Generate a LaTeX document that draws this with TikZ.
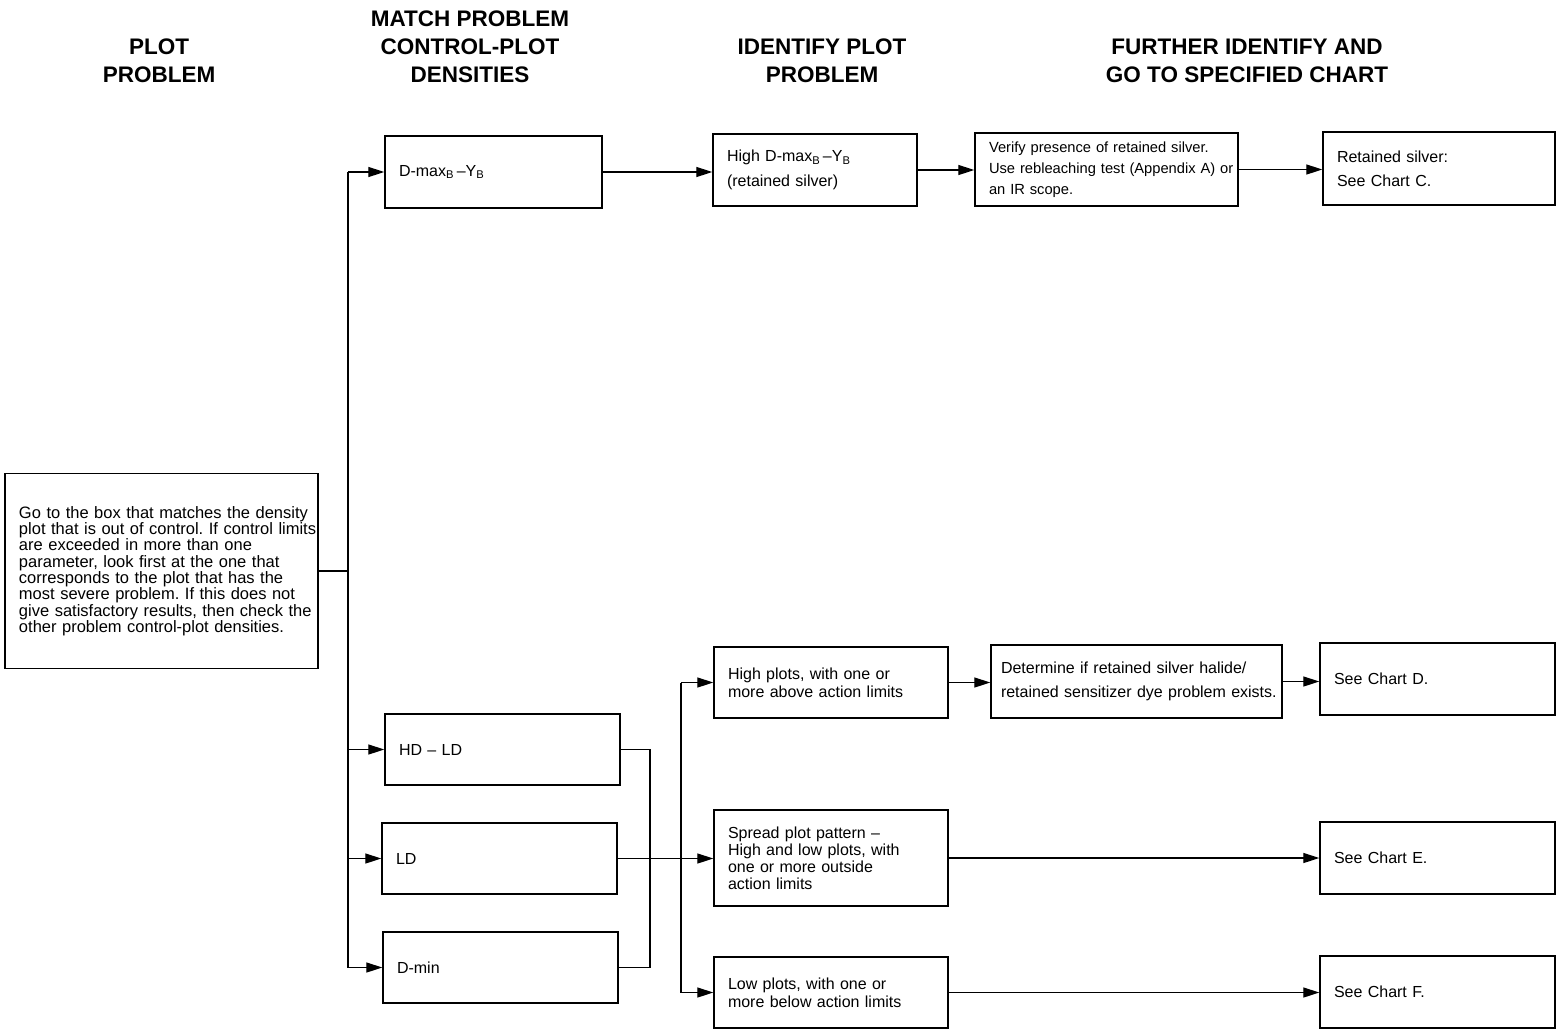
\documentclass[tikz,border=0pt]{standalone}
\usepackage{fontspec}
\setmainfont{Liberation Sans}
\usetikzlibrary{arrows.meta}
\frenchspacing

\begin{document}
\begin{tikzpicture}[x=1pt,y=-1pt,
  box/.style={draw,line width=1.4pt,inner xsep=14pt,inner ysep=0pt,align=left},
  txt/.style 2 args={font=\fontsize{#1}{#2}\selectfont},
  head/.style={font=\bfseries\fontsize{22.5}{28}\selectfont,align=center},
  line/.style={line width=1.3pt},
  arr/.style={line width=1.3pt,-{Triangle[length=16pt,width=10pt]}}]
\useasboundingbox (0,0) rectangle (1558,1029);
\node[head] (hplot) at (159,61) {PLOT\\PROBLEM};
\node[head] (hmatch) at (470,47) {MATCH PROBLEM\\CONTROL-PLOT\\DENSITIES};
\node[head] (hident) at (822,61) {IDENTIFY PLOT\\PROBLEM};
\node[head] (hfurther) at (1247,61) {FURTHER IDENTIFY AND\\GO TO SPECIFIED CHART};
\node[box,txt={16.5}{16.3},text width=285pt,minimum height=195pt] (goto) at (161.5,571)
{\mbox{Go to the box that matches the density}\\
\mbox{plot that is out of control. If control limits}\\
are exceeded in more than one\\
parameter, look first at the one that\\
corresponds to the plot that has the\\
most severe problem. If this does not\\
\mbox{give satisfactory results, then check the}\\
other problem control-plot densities.};
\node[box,txt={16}{19},text width=189pt,minimum height=72pt] (dmax) at (493.5,172)
{D-max\textsubscript{B}\,--Y\textsubscript{B}};
\node[box,txt={16}{19},text width=207pt,minimum height=71pt] (hdld) at (502.5,749.5) {HD -- LD};
\node[box,txt={16}{19},text width=207pt,minimum height=71pt] (ld) at (499.5,858.5) {LD};
\node[box,txt={16}{19},text width=207pt,minimum height=71pt] (dmin) at (500.5,967.5) {D-min};
\node[box,txt={16}{25},text width=176pt,minimum height=72pt] (highdmax) at (815,170)
{High D-max\textsubscript{B}\,--Y\textsubscript{B}\\(retained silver)};
\node[box,txt={14.7}{21},text width=235pt,minimum height=73pt] (verify) at (1106.5,169.5)
{Verify presence of retained silver.\\\mbox{Use rebleaching test (Appendix A) or}\\an IR scope.};
\node[box,txt={16}{24},text width=204pt,minimum height=73pt] (retained) at (1439,168.5)
{Retained silver:\\See Chart C.};
\node[box,txt={16}{18},text width=206pt,minimum height=71pt] (highplots) at (831,682.5)
{High plots, with one or\\more above action limits};
\node[box,txt={16}{24},inner xsep=10pt,text width=271pt,minimum height=73pt] (determine) at (1136.5,681.5)
{\mbox{Determine if retained silver halide/}\\\mbox{retained sensitizer dye problem exists.}};
\node[box,txt={16}{19},text width=207pt,minimum height=72pt] (chartd) at (1437.5,679) {See Chart D.};
\node[box,txt={16}{17},text width=206pt,minimum height=96pt] (spread) at (831,858)
{Spread plot pattern --\\High and low plots, with\\one or more outside\\action limits};
\node[box,txt={16}{19},text width=207pt,minimum height=72pt] (charte) at (1437.5,858) {See Chart E.};
\node[box,txt={16}{18},text width=206pt,minimum height=71pt] (lowplots) at (831,992.5)
{Low plots, with one or\\more below action limits};
\node[box,txt={16}{19},text width=207pt,minimum height=72pt] (chartf) at (1437.5,992) {See Chart F.};
\coordinate (bus) at (348,571);
\draw[line] (goto.east) -- (bus);
\draw[line] (bus |- dmax.west) -- (bus |- dmin.west);
\foreach \n in {dmax,hdld,ld,dmin}
  \draw[arr] (bus |- \n.west) -- (\n.west);
\draw[arr] (dmax.east) -- (dmax.east -| highdmax.west);
\draw[arr] (highdmax.east) -- (highdmax.east -| verify.west);
\draw[arr] (verify.east) -- (verify.east -| retained.west);
\coordinate (merge) at (650,858);
\draw[line] (hdld.east) -| (merge) |- (dmin.east);
\draw[arr] (ld.east) -- (ld.east -| spread.west);
\coordinate (split) at (681,858);
\draw[line] (split |- highplots.west) -- (split |- lowplots.west);
\foreach \n in {highplots,lowplots}
  \draw[arr] (split |- \n.west) -- (\n.west);
\draw[arr] (highplots.east) -- (highplots.east -| determine.west);
\draw[arr] (determine.east) -- (determine.east -| chartd.west);
\draw[arr] (spread.east) -- (spread.east -| charte.west);
\draw[arr] (lowplots.east) -- (lowplots.east -| chartf.west);
\end{tikzpicture}
\end{document}
